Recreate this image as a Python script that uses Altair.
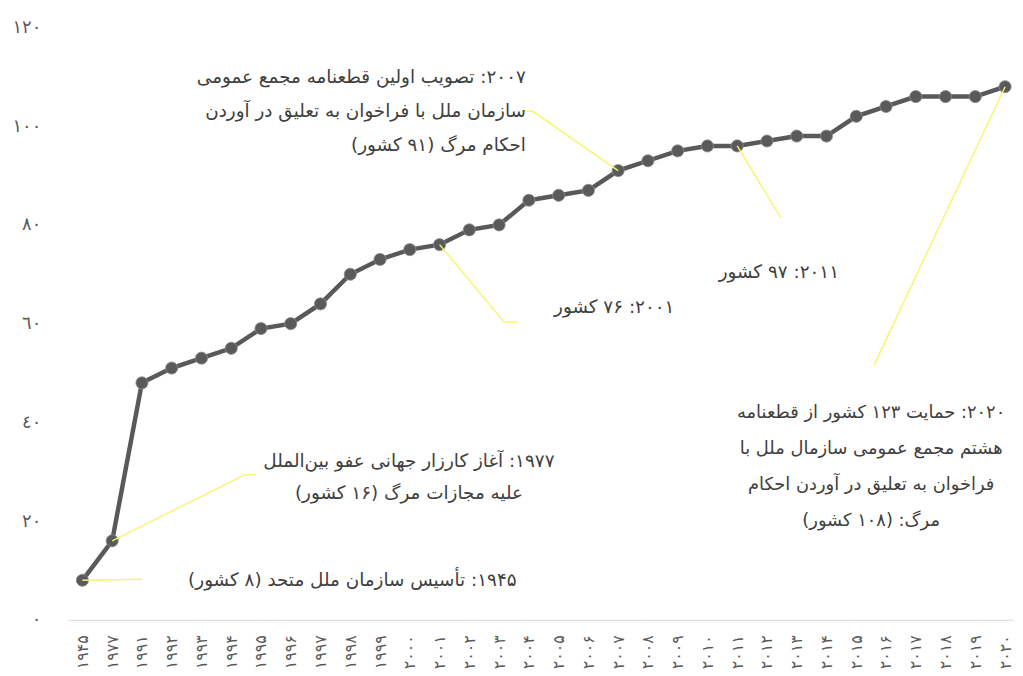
import altair as alt
import pandas as pd

# ---- data ----
years = [1945, 1977] + list(range(1991, 2021))
counts = [8, 16,
          48, 51, 53, 55, 59, 60, 64, 70, 73, 75,
          76, 79, 80, 85, 86, 87, 91, 93, 95, 96,
          96, 97, 98, 98, 102, 104, 106, 106, 106, 108]
fa_digits = str.maketrans("0123456789", "۰۱۲۳۴۵۶۷۸۹")
year_labels = [str(y).translate(fa_digits) for y in years]
ytick_values = [0, 20, 40, 60, 80, 100, 120]
ytick_labels = ["٠", "٢٠", "٤٠", "٦٠", "٨٠", "١٠٠", "١٢٠"]

RLE, PDF = "\u202B", "\u202C"


def rtl(lines):
    return "\n".join(RLE + l + PDF for l in lines)


# annotations: text lines, anchor (category index, count) of the first line
note_lines = [
    ["۱۹۴۵: تأسیس سازمان ملل متحد (۸ کشور)"],
    ["۱۹۷۷: آغاز کارزار جهانی عفو بین‌الملل", "علیه مجازات مرگ (۱۶ کشور)"],
    ["۲۰۰۱: ۷۶ کشور"],
    ["۲۰۰۷: تصویب اولین قطعنامه مجمع عمومی",
     "سازمان ملل با فراخوان به تعلیق در آوردن",
     "احکام مرگ (۹۱ کشور)"],
    ["۲۰۱۱: ۹۷ کشور"],
    ["۲۰۲۰: حمایت ۱۲۳ کشور از قطعنامه", "هشتم مجمع عمومی سازمال ملل با",
     "فراخوان به تعلیق در آوردن احکام", "مرگ: (۱۰۸ کشور)"],
]
note_x = [9.07, 10.97, 17.87, 14.9, 23.4, 26.5]
note_y = [8.0, 32.2, 63.3, 109.9, 70.55, 41.8]
note_align = ["center", "center", "center", "right", "center", "center"]
note_lh = [34, 32, 34, 34, 34, 36.3]
note_size = [18.5, 18.5, 18.5, 18.5, 18.5, 18]

# leader lines (data coordinates: category index, count)
seg_x1 = [0, 1, 5.46, 12, 14.17, 18, 15.12, 22, 31]
seg_y1 = [8, 16, 29.4, 76, 60.3, 91, 103.05, 96, 108]
seg_x2 = [2.0, 5.46, 5.84, 14.17, 14.6, 15.12, 14.79, 23.47, 26.6]
seg_y2 = [8.2, 29.4, 29.4, 60.3, 60.3, 103.05, 103.05, 81.4, 51.6]

# ---- tables ----
df = pd.DataFrame({"i": list(range(len(years))), "v": counts})
segs = pd.DataFrame({"i": seg_x1, "v": seg_y1, "i2": seg_x2, "v2": seg_y2})

xlab_expr = "[" + ",".join("'" + s + "'" for s in year_labels) + "][datum.value]"
ylab_expr = "[" + ",".join("'" + s + "'" for s in ytick_labels) + "][round(datum.value / 20)]"

x_scale = alt.Scale(domain=[-0.5, -0.5 + 953 / 30], nice=False, zero=False)
y_scale = alt.Scale(domain=[0, 120], nice=False, zero=True)

x_axis = alt.Axis(values=list(range(len(years))), labelExpr=xlab_expr,
                  labelAngle=270, ticks=False, grid=False,
                  domainColor="#d9d9d9", domainWidth=1.2,
                  labelColor="#595959", labelFontSize=16,
                  labelFont="DejaVu Sans",
                  labelPadding=15, labelFlush=False,
                  labelOverlap=False, labelBound=False, labelSeparation=0)
y_axis = alt.Axis(values=ytick_values, labelExpr=ylab_expr,
                  ticks=False, domain=False, grid=False,
                  labelColor="#595959", labelFontSize=18,
                  labelFont="DejaVu Sans", labelPadding=27)

x_enc = alt.X("i:Q", scale=x_scale, title=None, axis=x_axis)
y_enc = alt.Y("v:Q", scale=y_scale, title=None, axis=y_axis)

base = alt.Chart(df)
line = base.mark_line(color="#595959", strokeWidth=4.5).encode(x=x_enc, y=y_enc)
pts = base.mark_circle(color="#5a5a5a", opacity=1, size=150,
                       stroke="#8c8c8c", strokeWidth=0.8).encode(x=x_enc, y=y_enc)

leaders = alt.Chart(segs).mark_rule(color="#f6f66a", strokeWidth=1.4).encode(
    x=x_enc, y=y_enc, x2="i2:Q", y2="v2:Q")

layers = [line, pts, leaders]
for lines, xi, yi, al, lh, fs in zip(note_lines, note_x, note_y, note_align,
                                     note_lh, note_size):
    nd = pd.DataFrame({"i": [xi], "v": [yi], "t": [rtl(lines)]})
    layers.append(
        alt.Chart(nd).mark_text(align=al, baseline="middle", lineBreak="\n",
                                lineHeight=lh, fontSize=fs, font="DejaVu Sans",
                                color="#404040").encode(x=x_enc, y=y_enc, text="t:N")
    )

chart = alt.layer(*layers).properties(
    width=953, height=597,
    autosize=alt.AutoSizeParams(type="none"),
    padding={"left": 60, "top": 17, "right": 2, "bottom": 50},
).configure_view(stroke=None).configure_axisX(labelOverlap=False)

chart.save("out.html", embed_options={"renderer": "svg", "actions": False})
